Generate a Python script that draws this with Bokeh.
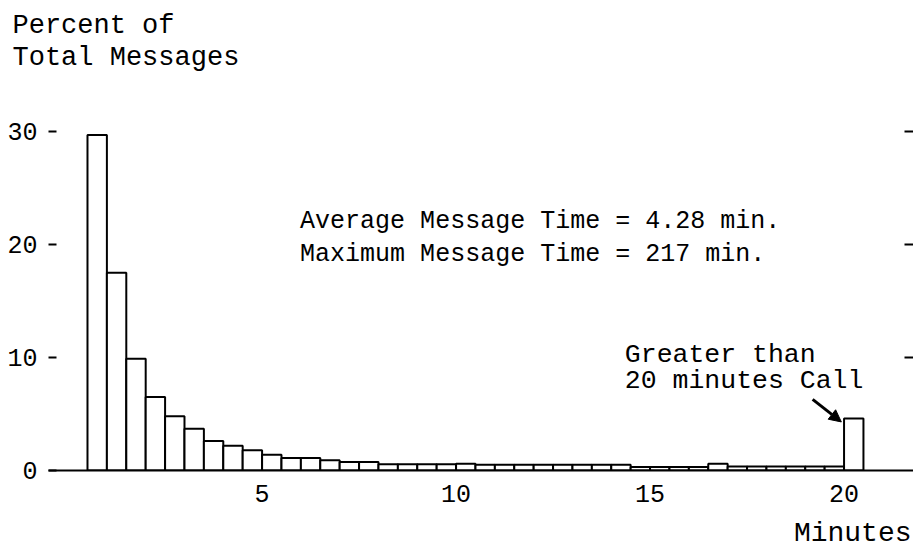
from bokeh.plotting import figure
from bokeh.models import Label, Arrow, NormalHead, LinearAxis, FixedTicker, Range1d, ColumnDataSource, Title, CustomJSTickFormatter
from bokeh.embed import file_html
from bokeh.resources import INLINE

# ---- data ----
bin_left = [0.5, 1.0, 1.5, 2.0, 2.5, 3.0, 3.5, 4.0, 4.5, 5.0,
            5.5, 6.0, 6.5, 7.0, 7.5, 8.0, 8.5, 9.0, 9.5, 10.0,
            10.5, 11.0, 11.5, 12.0, 12.5, 13.0, 13.5, 14.0, 14.5, 15.0,
            15.5, 16.0, 16.5, 17.0, 17.5, 18.0, 18.5, 19.0, 19.5, 20.0]
bin_right = [0.5 + x for x in bin_left]
percent = [29.7, 17.5, 9.9, 6.5, 4.8, 3.7, 2.6, 2.2, 1.8, 1.4,
           1.1, 1.1, 0.9, 0.75, 0.75, 0.55, 0.55, 0.55, 0.55, 0.6,
           0.5, 0.5, 0.5, 0.5, 0.5, 0.5, 0.5, 0.5, 0.3, 0.3,
           0.3, 0.3, 0.6, 0.35, 0.35, 0.35, 0.35, 0.35, 0.35, 4.6]
x_ticks = [5, 10, 15, 20]
y_ticks = [0, 10, 20, 30]

FONT = "Liberation Mono"

src = ColumnDataSource(dict(left=bin_left, right=bin_right, top=percent, bottom=[0] * len(percent)))

p = figure(width=913, height=559, x_range=Range1d(-0.505, 21.79), y_range=Range1d(0, 35.22),
           output_backend="svg", toolbar_location=None,
           min_border_left=48, min_border_right=0, min_border_top=72, min_border_bottom=89)
p.outline_line_color = None
p.grid.visible = False
p.background_fill_color = "white"
p.border_fill_color = "white"

p.quad(left="left", right="right", top="top", bottom="bottom", source=src,
       fill_color="white", line_color="black", line_width=2)

# bottom axis
xa = p.xaxis[0]
xa.ticker = FixedTicker(ticks=x_ticks)
xa.major_tick_in = 0
xa.major_tick_out = 0
xa.minor_tick_line_color = None
xa.axis_line_width = 2
xa.axis_line_color = "black"
xa.major_label_standoff = 14
xa.major_label_text_font = FONT
xa.major_label_text_font_size = "25px"
xa.major_label_text_color = "black"

# left axis
ya = p.yaxis[0]
ya.ticker = FixedTicker(ticks=y_ticks)
ya.axis_line_color = None
ya.major_tick_in = 8
ya.major_tick_out = 0
ya.major_tick_line_width = 2
ya.minor_tick_line_color = None
ya.major_label_standoff = 11
ya.major_label_text_font = FONT
ya.major_label_text_font_size = "25px"
ya.major_label_text_color = "black"

# right axis: ticks only
ra = LinearAxis(ticker=FixedTicker(ticks=[10, 20, 30]))
ra.axis_line_color = None
ra.major_tick_in = 9
ra.major_tick_out = 0
ra.major_tick_line_width = 2
ra.minor_tick_line_color = None
ra.formatter = CustomJSTickFormatter(code="return ''")
ra.major_label_standoff = 0
p.add_layout(ra, "right")

# titles outside the frame
def title(text, side, align, offset, size, standoff=0):
    t = Title(text=text, align=align, offset=offset, text_font=FONT, text_font_size=size,
              text_font_style="normal", text_color="black", standoff=standoff)
    p.add_layout(t, side)

title("Total Messages", "above", "left", -36, "27px")
title("Percent of", "above", "left", -36, "27px")
title("Minutes", "below", "right", 2, "28px", standoff=22)

def lab(x, y, text, size):
    p.add_layout(Label(x=x, y=y, text=text, text_font=FONT, text_font_size=size,
                       text_color="black", text_baseline="alphabetic", text_align="left"))

lab(5.98, 22.0, "Average Message Time = 4.28 min.", "25px")
lab(5.98, 19.1, "Maximum Message Time = 217 min.", "25px")
lab(14.35, 10.25, "Greater than", "26.5px")
lab(14.35, 7.9, "20 minutes Call", "26.5px")

p.add_layout(Arrow(end=NormalHead(size=12, fill_color="black", line_color="black"),
                   x_start=19.19, y_start=6.3, x_end=19.93, y_end=4.3,
                   line_width=3, line_color="black"))

open("out.html", "w").write(file_html(p, INLINE))
